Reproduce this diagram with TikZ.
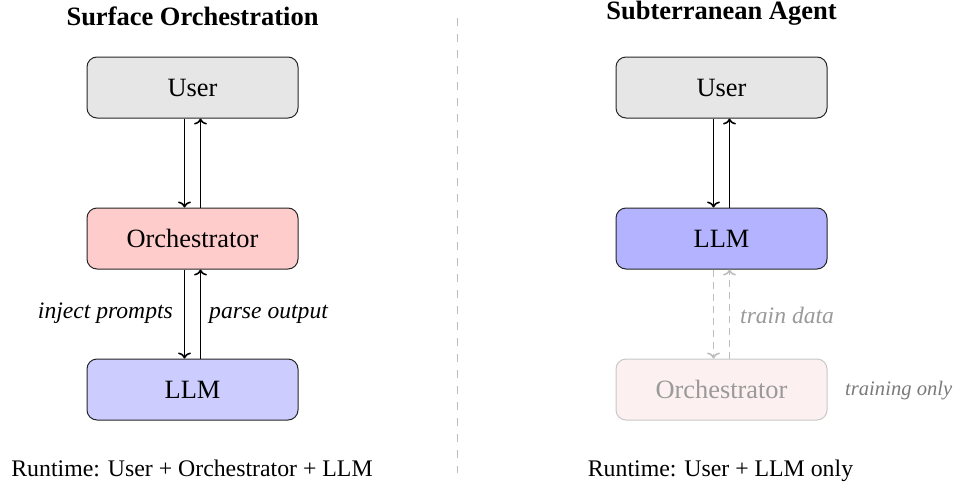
\documentclass[tikz,border=0pt]{standalone}
\usepackage{fontspec}
\setmainfont{Liberation Serif}
\usetikzlibrary{arrows.meta}
\definecolor{usergray}{HTML}{E6E6E6}
\definecolor{orchred}{HTML}{FFCCCC}
\definecolor{llmblue}{HTML}{CCCCFF}
\definecolor{llmblueB}{HTML}{B3B3FF}
\definecolor{ghostfill}{HTML}{FDF0F0}
\definecolor{ghostline}{HTML}{C8C8C8}
\definecolor{ghosttext}{HTML}{9A9A9A}
\definecolor{dashgray}{HTML}{BDBDBD}
\definecolor{notegray}{HTML}{7A7A7A}
\newcommand{\boxfont}{\fontsize{26.4}{30}\selectfont}
\newcommand{\labfont}{\fontsize{23.6}{27}\selectfont\itshape}
\newcommand{\runfont}{\fontsize{23.8}{27}\selectfont}
\newcommand{\titfont}{\fontsize{26.5}{30}\selectfont\bfseries}
\newcommand{\notefont}{\fontsize{20.6}{24}\selectfont\itshape}
\tikzset{
  blockbox/.style={draw=black!85, line width=1pt, rounded corners=10pt,
    minimum width=211pt, minimum height=61pt, inner sep=0pt, font=\boxfont},
  arr/.style={line width=1.6pt, -{To[length=6pt,width=13pt,line width=1.6pt]}},
  ghostarr/.style={draw=dashgray, line width=1.6pt, dash pattern=on 7pt off 5pt,
    -{To[length=6pt,width=13pt,line width=1.6pt]}},
  lab/.style={inner sep=0pt, font=\labfont},
  plain/.style={inner sep=0pt}
}
\begin{document}
\begin{tikzpicture}[x=1pt,y=-1pt]
\useasboundingbox (0,0) rectangle (956,482);
% titles
\node[plain, anchor=base, font=\titfont] (t1) at (192.5,25) {Surface Orchestration};
\node[plain, anchor=base, font=\titfont] (t2) at (721.5,19.5) {Subterranean Agent};
% divider
\coordinate (dtop) at (457,18);
\coordinate (dbot) at (457,473);
\draw[dashgray, line width=1pt, dash pattern=on 8pt off 8pt] (dtop) -- (dbot);
% left column
\node[blockbox, fill=usergray] (U1) at (192.5,87.5) {User};
\node[blockbox, fill=orchred] (O1) at (192.5,238.5) {Orchestrator};
\node[blockbox, fill=llmblue] (L1) at (192.5,389.5) {LLM};
\draw[arr] ([xshift=-8pt]U1.south) -- ([xshift=-8pt]O1.north);
\draw[arr] ([xshift=8pt]O1.north) -- ([xshift=8pt]U1.south);
\draw[arr] ([xshift=-8pt]O1.south) -- ([xshift=-8pt]L1.north);
\draw[arr] ([xshift=8pt]L1.north) -- ([xshift=8pt]O1.south);
\node[lab, anchor=base east] (inj) at (173,318) {inject prompts};
\node[lab, anchor=base west] (par) at (209,318) {parse output};
\node[plain, anchor=base, font=\runfont] (r1) at (192,476) {Runtime: User + Orchestrator + LLM};
% right column
\node[blockbox, fill=usergray] (U2) at (721.5,87.5) {User};
\node[blockbox, fill=llmblueB] (L2) at (721.5,238.5) {LLM};
\node[blockbox, draw=ghostline, fill=ghostfill, text=ghosttext] (O2) at (721.5,389.5) {Orchestrator};
\draw[arr] ([xshift=-8pt]U2.south) -- ([xshift=-8pt]L2.north);
\draw[arr] ([xshift=8pt]L2.north) -- ([xshift=8pt]U2.south);
\draw[ghostarr] ([xshift=-8pt]L2.south) -- ([xshift=-8pt]O2.north);
\draw[ghostarr] ([xshift=8pt]O2.north) -- ([xshift=8pt]L2.south);
\node[lab, anchor=base west, text=ghosttext] (trd) at (740,323) {train data};
\node[plain, anchor=base west, font=\notefont, text=notegray] (tro) at (845,395) {training only};
\node[plain, anchor=base, font=\runfont] (r2) at (720.5,476) {Runtime: User + LLM only};
\end{tikzpicture}
\end{document}
